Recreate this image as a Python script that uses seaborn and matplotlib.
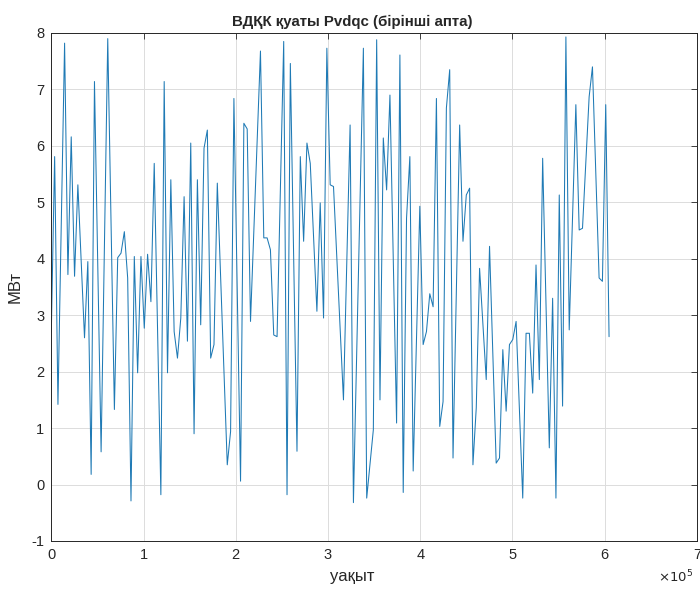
import numpy as np
import pandas as pd
import seaborn as sns
import matplotlib
matplotlib.use("Agg")
import matplotlib.pyplot as plt
from matplotlib.ticker import FuncFormatter

# hour index of each visible vertex (1 sample per hour over one week)
hours = [0, 1, 2, 4, 5, 6, 7, 8, 10, 11, 12, 13, 15, 17, 19, 20, 21, 22, 23, 24,
         25, 26, 27, 28, 29, 30, 31, 33, 34, 35, 36, 37, 38, 39, 40, 41, 42, 43,
         44, 45, 46, 47, 48, 49, 50, 53, 54, 55, 57, 58, 59, 60, 63, 64, 65, 66,
         67, 68, 70, 71, 72, 74, 75, 76, 77, 78, 80, 81, 82, 83, 84, 85, 88, 90,
         91, 94, 95, 97, 98, 99, 100, 101, 102, 104, 105, 106, 107, 108, 109,
         111, 112, 113, 114, 115, 116, 117, 118, 119, 120, 121, 123, 124, 125,
         126, 127, 128, 129, 131, 132, 134, 135, 136, 137, 138, 139, 140, 142,
         143, 144, 145, 146, 147, 148, 150, 151, 152, 153, 154, 155, 156, 158,
         159, 160, 162, 163, 165, 166, 167, 168]

# power, MW
power = [2.7, 5.81, 1.42, 7.82, 3.72, 6.16, 3.69, 5.31, 2.6, 3.95, 0.18, 7.14,
         0.58, 7.9, 1.33, 4.02, 4.1, 4.48, 3.66, -0.29, 4.04, 1.98, 4.04, 2.77,
         4.08, 3.24, 5.69, -0.18, 7.14, 1.98, 5.4, 2.71, 2.24, 2.95, 5.1, 2.54,
         6.05, 0.9, 5.4, 2.83, 5.96, 6.28, 2.24, 2.48, 5.34, 0.35, 0.94, 6.84,
         0.06, 6.4, 6.3, 2.89, 7.68, 4.37, 4.37, 4.16, 2.65, 2.62, 7.85, -0.18,
         7.46, 0.59, 5.81, 4.31, 6.05, 5.69, 3.07, 4.99, 2.95, 7.73, 5.31, 5.28,
         1.5, 6.37, -0.32, 7.73, -0.24, 0.97, 7.88, 1.5, 6.14, 5.22, 6.9, 1.09,
         7.61, -0.14, 4.72, 5.81, 0.24, 4.93, 2.48, 2.71, 3.38, 3.15, 6.84, 1.03,
         1.47, 6.67, 7.35, 0.47, 6.37, 4.31, 5.13, 5.25, 0.35, 1.36, 3.83, 1.86,
         4.22, 0.38, 0.47, 2.39, 1.3, 2.48, 2.57, 2.89, -0.24, 2.68, 2.68, 1.62,
         3.89, 1.86, 5.78, 0.65, 3.3, -0.24, 5.13, 1.39, 7.93, 2.74, 6.73, 4.51,
         4.54, 6.87, 7.4, 3.66, 3.6, 6.73, 2.62]

x_ticks = [0, 1, 2, 3, 4, 5, 6, 7]
y_ticks = [-1, 0, 1, 2, 3, 4, 5, 6, 7, 8]

df = pd.DataFrame({"t": np.array(hours) * 3600, "P": power})

sns.set_theme(style="white")
plt.rcParams["font.family"] = ["Liberation Sans", "DejaVu Sans"]
plt.rcParams["axes.unicode_minus"] = False

fig = plt.figure(figsize=(7, 5.89), dpi=100)
ax = fig.add_axes([0.0733, 0.0815, 0.9222, 0.8625])

sns.lineplot(data=df, x="t", y="P", ax=ax, color="#1f7ab5", linewidth=0.75,
             estimator=None, sort=False)

ax.set_xlim(0, 7e5)
ax.set_ylim(-1, 8)
ax.set_xticks([v * 1e5 for v in x_ticks])
ax.xaxis.set_major_formatter(FuncFormatter(lambda v, p: f"{v / 1e5:g}"))
ax.set_yticks(y_ticks)

ax.grid(True, color="#dcdcdc", linewidth=0.7)
for s in ax.spines.values():
    s.set_color("#262626")
    s.set_linewidth(0.7)
ax.tick_params(direction="in", length=4, width=0.6, color="#262626",
               top=True, right=True, labelsize=10.5, labelcolor="#262626", pad=5)

ax.set_title("ВДҚК қуаты Pvdqc (бірінші апта)", fontsize=10.8, fontweight="bold",
             x=0.466, pad=5)
ax.set_xlabel("уақыт", fontsize=12, color="#262626")
ax.xaxis.set_label_coords(0.466, -0.055)
ax.set_ylabel("МВт", fontsize=12, color="#262626")
ax.yaxis.set_label_coords(-0.045, 0.5)

fig.text(0.94, 0.012, r"$\times 10^5$", fontsize=9.5, color="#262626")

fig.savefig("out.png", dpi=100)
